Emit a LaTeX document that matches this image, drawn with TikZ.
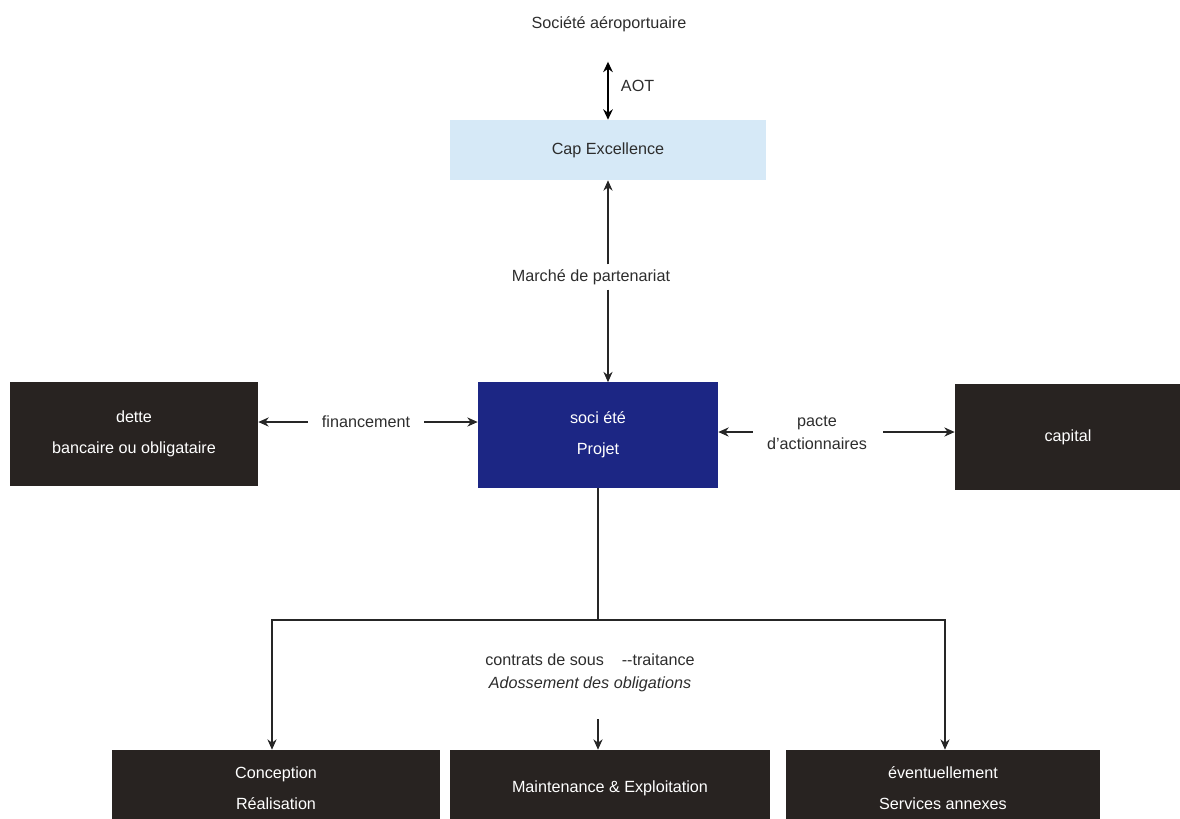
\documentclass[tikz,border=0pt]{standalone}
\usepackage{fontspec}
\setmainfont{Liberation Sans}
\usepackage{tikz}
\usetikzlibrary{arrows.meta,calc}
\definecolor{boxdark}{RGB}{40,35,33}
\definecolor{projblue}{RGB}{28,38,132}
\definecolor{capblue}{RGB}{214,233,247}
\definecolor{txtgray}{RGB}{45,45,45}

\begin{document}
\begin{tikzpicture}[x=0.025cm,y=-0.025cm,font=\fontsize{11.5pt}{22pt}\selectfont]
\tikzstyle{darkbox}=[rectangle,fill=boxdark,text=white,align=center,inner sep=0pt]
\tikzstyle{lbl}=[text=txtgray,align=center,font=\fontsize{11.5pt}{16pt}\selectfont]
\tikzstyle{conn}=[-{Stealth[length=2.6mm,width=2.3mm]},line width=0.9pt,draw=black!85]
\useasboundingbox (0,0) rectangle (1180,818);
\clip (0,0) rectangle (1180,818);

% Top: airport company and Cap Excellence
\node (SOC) [lbl] at (609,24) {Société aéroportuaire};
\node (CAP) [rectangle,fill=capblue,text=txtgray,minimum width=7.9cm,minimum height=1.5cm] at (608,150) {Cap Excellence};
\node (AOT) [lbl,anchor=west] at (616,86) {AOT};
\draw[{Stealth[length=2.6mm,width=2.4mm]}-{Stealth[length=2.6mm,width=2.4mm]},line width=1.4pt] ($(CAP.north)+(0,-58)$) -- (CAP.north);

% Middle row
\node (PROJ) [rectangle,fill=projblue,text=white,align=center,minimum width=6cm,minimum height=2.625cm] at (598,435) {soci été\\Projet};
\node (DETTE) [darkbox,minimum width=6.2cm,minimum height=2.6cm] at (134,434) {dette\\bancaire ou obligataire};
\node (CAPI) [darkbox,minimum width=5.65cm,minimum height=2.625cm] at (1068,437) {capital};

\node (MP) [lbl] at (591,277) {Marché de partenariat};
\node (FIN) [lbl,inner xsep=0.35cm] at (366,422) {financement};
\node (PACTE) [lbl,inner xsep=0.2cm] at (817,433) {pacte\\d'actionnaires};

\draw[conn] (MP.north -| CAP.south) -- (CAP.south);
\draw[conn] (MP.south -| CAP.south) -- (PROJ.north -| CAP.south);
\draw[conn] (FIN.west) -- (FIN.west -| DETTE.east);
\draw[conn] (FIN.east) -- (FIN.east -| PROJ.west);
\draw[conn] ($(PACTE.west |- 0,432)+(-6,0)$) -- (PROJ.east |- 0,432);
\draw[conn] ($(PACTE.east |- 0,432)+(8,0)$) -- (CAPI.west |- 0,432);

% Bottom: sub-contracts
\node (CONC) [darkbox,minimum width=8.2cm,minimum height=1.9cm] at (276,788) {Conception\\Réalisation};
\node (MAINT) [darkbox,minimum width=8cm,minimum height=1.9cm] at (610,788) {Maintenance \& Exploitation};
\node (SERV) [darkbox,minimum width=7.825cm,minimum height=1.9cm] at (943,788) {éventuellement\\Services annexes};
\node (CTR) [lbl] at (590,673) {contrats de sous\hspace{1.1em}-{}-traitance\\\textit{Adossement des obligations}};

\coordinate (BR) at (598,620);
\coordinate (MT) at (598,719);
\draw[line width=0.9pt,draw=black!85] (PROJ.south) -- (BR);
\draw[conn] (BR) -| (CONC.north -| 272,0);
\draw[conn] (BR) -| (SERV.north -| 945,0);
\draw[conn,line width=1.4pt] (MT) -- (MT |- MAINT.north);

\end{tikzpicture}
\end{document}
